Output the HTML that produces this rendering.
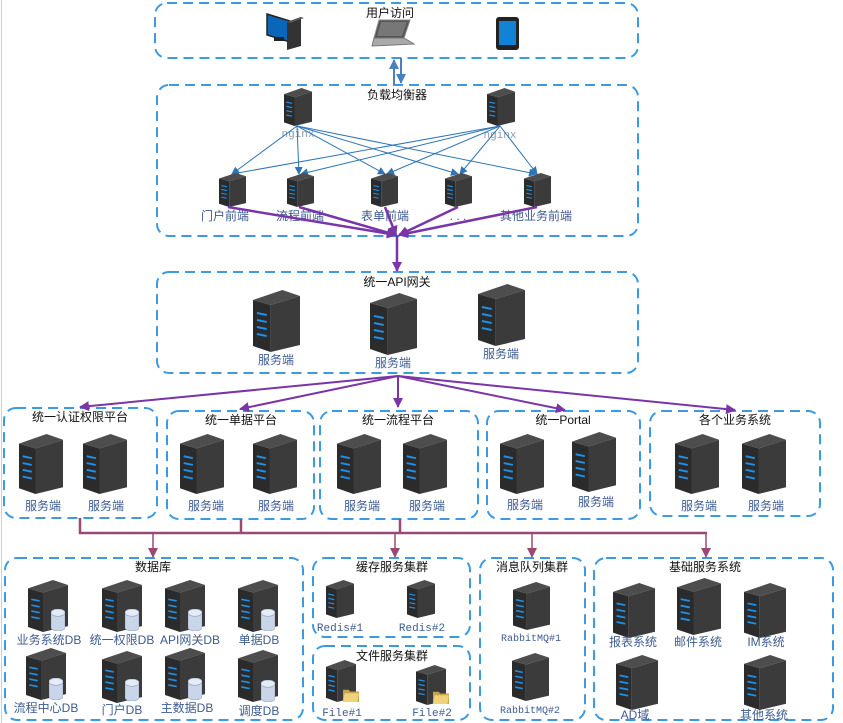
<!DOCTYPE html>
<html><head><meta charset="utf-8"><style>
html,body{margin:0;padding:0;background:#fff;width:843px;height:723px;overflow:hidden}
svg{display:block}
text{font-family:"Liberation Sans","Noto Sans CJK SC",sans-serif;font-size:12px;text-anchor:middle}
.t{fill:#111}
.l{fill:#3d5b8f}
.m{font-family:"Liberation Mono","Noto Sans CJK SC",monospace;font-size:11px;fill:#3d5b8f}
.box{fill:none;stroke:#3d9ae0;stroke-width:2;stroke-dasharray:10 6}
</style></head><body>
<svg width="843" height="723" viewBox="0 0 843 723" xmlns="http://www.w3.org/2000/svg">
<defs>
<symbol id="srv" viewBox="0 0 48 62" preserveAspectRatio="none">
<polygon points="0,10 30,0 48,6 18,15" fill="#4d4d4d"/>
<polygon points="0,10 18,15 18,62 0,56" fill="#2b2b2b"/>
<polygon points="18,15 48,6 48,55 18,62" fill="#3b3b3b"/>
<g stroke="#1e90e8" stroke-width="2"><line x1="4" y1="23" x2="14" y2="25"/><line x1="4" y1="30" x2="14" y2="32"/><line x1="4" y1="37" x2="14" y2="39"/><line x1="4" y1="44" x2="14" y2="46"/></g>
</symbol>
<symbol id="cyl" viewBox="0 0 18 24" preserveAspectRatio="none">
<path d="M0,4 L0,20 A9,4 0 0 0 18,20 L18,4 Z" fill="#c9d6ea" stroke="#9aaac4" stroke-width="0.8"/>
<ellipse cx="9" cy="4" rx="9" ry="4" fill="#e4ecf7" stroke="#9aaac4" stroke-width="0.8"/>
</symbol>
<symbol id="fold" viewBox="0 0 20 16" preserveAspectRatio="none">
<path d="M0,2 L7,2 L9,4 L20,4 L20,16 L0,16 Z" fill="#c9a24a"/>
<path d="M2,6 L20,6 L18,16 L0,16 Z" fill="#f0d27a"/>
</symbol>
<marker id="ab" markerWidth="8" markerHeight="8" refX="7" refY="4" orient="auto" markerUnits="userSpaceOnUse"><path d="M0,0 L8,4 L0,8 Z" fill="#2e75b6"/></marker>
<marker id="ap" markerWidth="10" markerHeight="10" refX="9" refY="5" orient="auto" markerUnits="userSpaceOnUse"><path d="M0,0 L10,5 L0,10 Z" fill="#7a35a8"/></marker>
<marker id="am" markerWidth="10" markerHeight="10" refX="9" refY="5" orient="auto" markerUnits="userSpaceOnUse"><path d="M0,0 L10,5 L0,10 Z" fill="#9a4a72"/></marker>
<marker id="au" markerWidth="10" markerHeight="10" refX="9" refY="5" orient="auto" markerUnits="userSpaceOnUse"><path d="M0,0 L10,5 L0,10 Z" fill="#4a7fc0"/></marker>
</defs>
<line x1="1.5" y1="0" x2="1.5" y2="723" stroke="#d0d0d0" stroke-width="1"/>

<!-- boxes -->
<rect class="box" x="155" y="3" width="483" height="55" rx="12"/>
<rect class="box" x="157" y="85" width="481" height="151" rx="12"/>
<rect class="box" x="157" y="272" width="481" height="101" rx="12"/>
<rect class="box" x="4" y="408" width="153" height="110" rx="12"/>
<rect class="box" x="167" y="411" width="147" height="108" rx="12"/>
<rect class="box" x="320" y="411" width="158" height="108" rx="12"/>
<rect class="box" x="487" y="411" width="153" height="108" rx="12"/>
<rect class="box" x="650" y="411" width="170" height="105" rx="12"/>
<rect class="box" x="5" y="558" width="298" height="162" rx="12"/>
<rect class="box" x="313" y="558" width="157" height="79" rx="12"/>
<rect class="box" x="313" y="646" width="157" height="74" rx="12"/>
<rect class="box" x="480" y="558" width="105" height="162" rx="12"/>
<rect class="box" x="594" y="558" width="239" height="162" rx="12"/>

<!-- titles -->
<text class="t" x="390" y="17">用户访问</text>
<text class="t" x="397" y="99">负载均衡器</text>
<text class="t" x="397" y="286">统一API网关</text>
<text class="t" x="80" y="421">统一认证权限平台</text>
<text class="t" x="241" y="424">统一单据平台</text>
<text class="t" x="398" y="424">统一流程平台</text>
<text class="t" x="563" y="424">统一Portal</text>
<text class="t" x="735" y="424">各个业务系统</text>
<text class="t" x="153" y="571">数据库</text>
<text class="t" x="392" y="571">缓存服务集群</text>
<text class="t" x="392" y="660">文件服务集群</text>
<text class="t" x="532" y="571">消息队列集群</text>
<text class="t" x="705" y="571">基础服务系统</text>

<!-- user icons -->
<g>
<polygon points="267,14 290,21 290,42 267,35" fill="#0a66b8" stroke="#222" stroke-width="1.5"/>
<rect x="274" y="37" width="10" height="4" fill="#222"/>
<polygon points="287,22 301,17 301,46 287,50" fill="#333"/>
<polygon points="287,22 301,17 304,18 290,23" fill="#555"/>
<polygon points="379,20 410,20 404,38 374,38" fill="#555" stroke="#888"/>
<polygon points="381,22 407,22 402,36 377,36" fill="#777"/>
<polygon points="374,38 404,38 414,44 372,46" fill="#aaa" stroke="#777"/>
<rect x="496" y="17" width="23" height="33" rx="3" fill="#222"/>
<rect x="499" y="21" width="17" height="24" fill="#1083d6"/>
</g>
<line x1="394" y1="85" x2="394" y2="60" stroke="#4a7fc0" stroke-width="2" marker-end="url(#au)"/>
<line x1="401" y1="58" x2="401" y2="83" stroke="#4a7fc0" stroke-width="2" marker-end="url(#au)"/>

<!-- LB -->
<use href="#srv" x="284" y="88" width="28" height="38"/>
<use href="#srv" x="487" y="88" width="28" height="38"/>
<text class="m" x="298" y="137" style="fill:#8a9bb0">nginx</text>
<text class="m" x="500" y="138" style="fill:#8a9bb0">nginx</text>
<g stroke="#2e75b6" stroke-width="1" fill="none" marker-end="url(#ab)">
<line x1="297" y1="126" x2="232" y2="174"/>
<line x1="297" y1="126" x2="299" y2="174"/>
<line x1="297" y1="126" x2="385" y2="174"/>
<line x1="297" y1="126" x2="458" y2="174"/>
<line x1="297" y1="126" x2="536" y2="174"/>
<line x1="500" y1="126" x2="232" y2="174"/>
<line x1="500" y1="126" x2="301" y2="174"/>
<line x1="500" y1="126" x2="387" y2="174"/>
<line x1="500" y1="126" x2="460" y2="174"/>
<line x1="500" y1="126" x2="537" y2="174"/>
</g>
<use href="#srv" x="219" y="173" width="27" height="34"/>
<use href="#srv" x="287" y="173" width="27" height="34"/>
<use href="#srv" x="371" y="173" width="27" height="34"/>
<use href="#srv" x="445" y="173" width="27" height="34"/>
<use href="#srv" x="524" y="173" width="27" height="34"/>
<text class="l" x="225" y="220">门户前端</text>
<text class="l" x="300" y="220">流程前端</text>
<text class="l" x="385" y="220">表单前端</text>
<text class="l" x="458" y="220">. . .</text>
<text class="l" x="536" y="220">其他业务前端</text>
<g stroke="#7a35a8" stroke-width="2.5" marker-end="url(#ap)">
<line x1="228" y1="207" x2="396" y2="235"/>
<line x1="299" y1="207" x2="396" y2="235"/>
<line x1="385" y1="207" x2="396" y2="235"/>
<line x1="458" y1="207" x2="399" y2="235"/>
<line x1="537" y1="207" x2="399" y2="235"/>
<line x1="397" y1="235" x2="397" y2="271"/>
</g>

<!-- API -->
<use href="#srv" x="253" y="290" width="47" height="62"/>
<use href="#srv" x="370" y="293" width="47" height="62"/>
<use href="#srv" x="478" y="284" width="47" height="62"/>
<text class="l" x="276" y="364">服务端</text>
<text class="l" x="393" y="367">服务端</text>
<text class="l" x="501" y="358">服务端</text>
<g stroke="#7a35a8" stroke-width="2" marker-end="url(#ap)">
<line x1="398" y1="376" x2="80" y2="407"/>
<line x1="398" y1="376" x2="240" y2="409"/>
<line x1="398" y1="376" x2="398" y2="407"/>
<line x1="398" y1="376" x2="565" y2="410"/>
<line x1="398" y1="376" x2="735" y2="410"/>
</g>

<!-- row 3 -->
<use href="#srv" x="19" y="434" width="44" height="60"/>
<use href="#srv" x="83" y="434" width="44" height="60"/>
<use href="#srv" x="180" y="434" width="44" height="60"/>
<use href="#srv" x="253" y="434" width="44" height="60"/>
<use href="#srv" x="337" y="434" width="44" height="60"/>
<use href="#srv" x="403" y="434" width="44" height="60"/>
<use href="#srv" x="500" y="434" width="44" height="60"/>
<use href="#srv" x="572" y="432" width="44" height="60"/>
<use href="#srv" x="675" y="434" width="44" height="60"/>
<use href="#srv" x="742" y="434" width="44" height="60"/>
<text class="l" x="43" y="510">服务端</text>
<text class="l" x="106" y="510">服务端</text>
<text class="l" x="206" y="510">服务端</text>
<text class="l" x="276" y="510">服务端</text>
<text class="l" x="362" y="510">服务端</text>
<text class="l" x="427" y="510">服务端</text>
<text class="l" x="525" y="509">服务端</text>
<text class="l" x="596" y="506">服务端</text>
<text class="l" x="699" y="510">服务端</text>
<text class="l" x="766" y="510">服务端</text>

<!-- bus -->
<g stroke="#9a4a72" stroke-width="2.5" fill="none">
<polyline points="80,518 80,533 707,533"/>
<line x1="241" y1="519" x2="241" y2="533"/>
<line x1="400" y1="519" x2="400" y2="533"/>
</g>
<g stroke="#9a4a72" stroke-width="1.5" marker-end="url(#am)">
<line x1="153" y1="533" x2="153" y2="557"/>
<line x1="395" y1="533" x2="395" y2="557"/>
<line x1="532" y1="533" x2="532" y2="557"/>
<line x1="706" y1="533" x2="706" y2="557"/>
</g>

<!-- DB -->
<use href="#srv" x="28" y="580" width="40" height="52"/>
<use href="#srv" x="102" y="580" width="40" height="52"/>
<use href="#srv" x="165" y="580" width="40" height="52"/>
<use href="#srv" x="238" y="580" width="40" height="52"/>
<use href="#srv" x="26" y="648" width="40" height="52"/>
<use href="#srv" x="102" y="651" width="40" height="52"/>
<use href="#srv" x="165" y="648" width="40" height="52"/>
<use href="#srv" x="238" y="650" width="40" height="52"/>
<use href="#cyl" x="51" y="609" width="14" height="22"/>
<use href="#cyl" x="125" y="609" width="14" height="22"/>
<use href="#cyl" x="188" y="609" width="14" height="22"/>
<use href="#cyl" x="261" y="609" width="14" height="22"/>
<use href="#cyl" x="49" y="678" width="14" height="22"/>
<use href="#cyl" x="125" y="679" width="14" height="22"/>
<use href="#cyl" x="188" y="678" width="14" height="22"/>
<use href="#cyl" x="261" y="680" width="14" height="22"/>
<text class="l" x="49" y="644">业务系统DB</text>
<text class="l" x="122" y="644">统一权限DB</text>
<text class="l" x="190" y="644">API网关DB</text>
<text class="l" x="259" y="644">单据DB</text>
<text class="l" x="46" y="712">流程中心DB</text>
<text class="l" x="122" y="714">门户DB</text>
<text class="l" x="187" y="712">主数据DB</text>
<text class="l" x="259" y="715">调度DB</text>

<!-- cache / file -->
<use href="#srv" x="326" y="580" width="28" height="38"/>
<use href="#srv" x="407" y="580" width="28" height="38"/>
<text class="m" x="340" y="631">Redis#1</text>
<text class="m" x="422" y="631">Redis#2</text>
<use href="#srv" x="326" y="660" width="30" height="42"/>
<use href="#srv" x="416" y="665" width="30" height="40"/>
<use href="#fold" x="343" y="688" width="16" height="14"/>
<use href="#fold" x="433" y="690" width="16" height="14"/>
<text class="m" x="342" y="716">File#1</text>
<text class="m" x="432" y="716">File#2</text>

<!-- MQ -->
<use href="#srv" x="513" y="582" width="37" height="48"/>
<use href="#srv" x="512" y="653" width="37" height="48"/>
<text class="m" x="531" y="641" style="font-size:10px">RabbitMQ#1</text>
<text class="m" x="530" y="713" style="font-size:10px">RabbitMQ#2</text>

<!-- base -->
<use href="#srv" x="613" y="583" width="42" height="55"/>
<use href="#srv" x="677" y="578" width="44" height="57"/>
<use href="#srv" x="744" y="583" width="42" height="55"/>
<use href="#srv" x="616" y="655" width="42" height="55"/>
<use href="#srv" x="744" y="655" width="42" height="55"/>
<text class="l" x="633" y="646">报表系统</text>
<text class="l" x="698" y="646">邮件系统</text>
<text class="l" x="766" y="646">IM系统</text>
<text class="l" x="635" y="719">AD域</text>
<text class="l" x="764" y="719">其他系统</text>
</svg>
</body></html>
